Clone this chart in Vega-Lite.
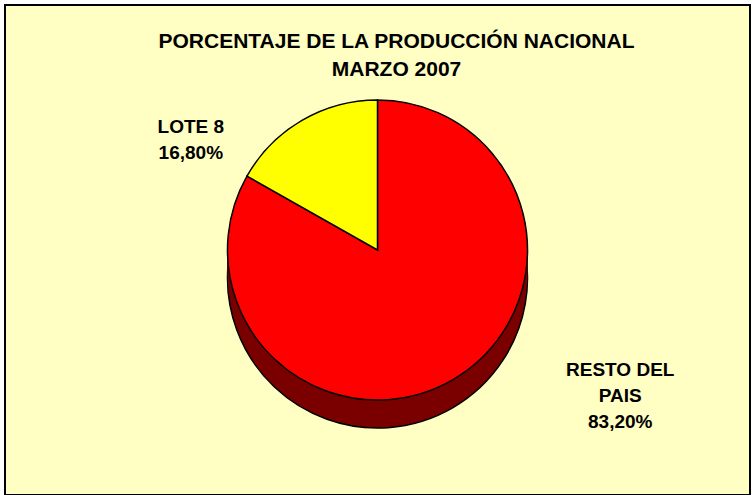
{
  "$schema": "https://vega.github.io/schema/vega-lite/v6.json",
  "width": 754,
  "height": 495,
  "autosize": {"type": "fit", "contains": "padding"},
  "padding": {"left": 5, "top": 5, "right": 4, "bottom": 0},
  "background": "white",
  "view": {"fill": "#FFFFC4", "stroke": "black", "strokeWidth": 2},
  "config": {
    "view": {"fill": "#FFFFC4", "stroke": "black", "strokeWidth": 2},
    "font": "Liberation Sans"
  },
  "title": {
    "text": ["PORCENTAJE DE LA PRODUCCIÓN NACIONAL", "MARZO 2007"],
    "font": "Liberation Sans",
    "fontSize": 21,
    "fontWeight": "bold",
    "color": "black",
    "lineHeight": 28,
    "anchor": "middle",
    "dx": 19,
    "offset": -75
  },
  "data": {
    "values": [
      {"region": "RESTO DEL PAIS", "pct": 83.2, "label": "RESTO DEL\nPAIS\n83,20%"},
      {"region": "LOTE 8", "pct": 16.8, "label": "LOTE 8\n16,80%"}
    ]
  },
  "encoding": {
    "theta": {"field": "pct", "type": "quantitative", "stack": true},
    "order": {"field": "pct", "type": "quantitative", "sort": "descending"}
  },
  "layer": [
    {"mark": {"type": "arc", "outerRadius": 150, "fill": "#7A0000", "stroke": "black", "strokeWidth": 1.5, "yOffset": 28}},
    {"mark": {"type": "arc", "outerRadius": 150, "fill": "#7A0000", "yOffset": 21}},
    {"mark": {"type": "arc", "outerRadius": 150, "fill": "#7A0000", "yOffset": 14}},
    {"mark": {"type": "arc", "outerRadius": 150, "fill": "#7A0000", "yOffset": 7}},
    {
      "mark": {"type": "arc", "outerRadius": 150, "stroke": "black", "strokeWidth": 1.5},
      "encoding": {
        "color": {
          "field": "region",
          "type": "nominal",
          "scale": {"domain": ["RESTO DEL PAIS", "LOTE 8"], "range": ["#FF0000", "#FFFF00"]},
          "legend": null
        }
      }
    },
    {
      "mark": {"type": "text", "radius": 190, "lineBreak": "\n", "fontSize": 19, "fontWeight": "bold", "lineHeight": 26, "dx": -91, "dy": 41, "align": "center", "baseline": "middle", "color": "black"},
      "encoding": {"text": {"condition": {"test": "datum.region === 'LOTE 8'", "field": "label"}, "value": ""}}
    },
    {
      "mark": {"type": "text", "radius": 200, "lineBreak": "\n", "fontSize": 19, "fontWeight": "bold", "lineHeight": 26, "dx": 142, "dy": -53, "align": "center", "baseline": "middle", "color": "black"},
      "encoding": {"text": {"condition": {"test": "datum.region === 'RESTO DEL PAIS'", "field": "label"}, "value": ""}}
    }
  ]
}
